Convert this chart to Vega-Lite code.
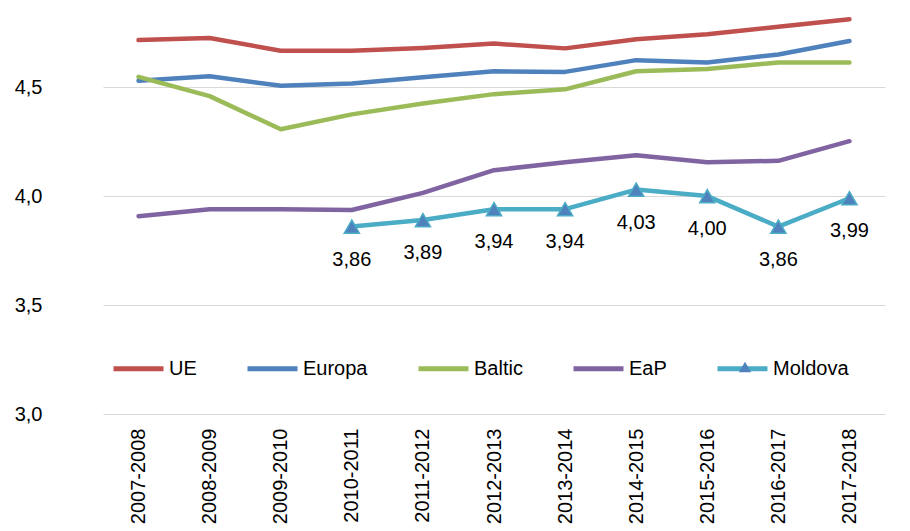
{
  "$schema": "https://vega.github.io/schema/vega-lite/v6.json",
  "width": 847,
  "height": 414,
  "autosize": {"type": "none"},
  "padding": {"left": 63, "top": 0, "right": 0, "bottom": 117},
  "background": "white",
  "config": {
    "locale": {"number": {"decimal": ",", "thousands": ".", "grouping": [3], "currency": ["", " €"]}},
    "view": {"stroke": null},
    "font": "Liberation Sans"
  },
  "data": {
    "values": [
      {"period": "2007-2008", "series": "UE", "value": 4.716},
      {"period": "2008-2009", "series": "UE", "value": 4.726},
      {"period": "2009-2010", "series": "UE", "value": 4.667},
      {"period": "2010-2011", "series": "UE", "value": 4.667},
      {"period": "2011-2012", "series": "UE", "value": 4.68},
      {"period": "2012-2013", "series": "UE", "value": 4.70},
      {"period": "2013-2014", "series": "UE", "value": 4.678},
      {"period": "2014-2015", "series": "UE", "value": 4.72},
      {"period": "2015-2016", "series": "UE", "value": 4.743},
      {"period": "2016-2017", "series": "UE", "value": 4.777},
      {"period": "2017-2018", "series": "UE", "value": 4.812},
      {"period": "2007-2008", "series": "Europa", "value": 4.529},
      {"period": "2008-2009", "series": "Europa", "value": 4.55},
      {"period": "2009-2010", "series": "Europa", "value": 4.506},
      {"period": "2010-2011", "series": "Europa", "value": 4.517},
      {"period": "2011-2012", "series": "Europa", "value": 4.546},
      {"period": "2012-2013", "series": "Europa", "value": 4.573},
      {"period": "2013-2014", "series": "Europa", "value": 4.57},
      {"period": "2014-2015", "series": "Europa", "value": 4.624},
      {"period": "2015-2016", "series": "Europa", "value": 4.613},
      {"period": "2016-2017", "series": "Europa", "value": 4.65},
      {"period": "2017-2018", "series": "Europa", "value": 4.712},
      {"period": "2007-2008", "series": "Baltic", "value": 4.547},
      {"period": "2008-2009", "series": "Baltic", "value": 4.459},
      {"period": "2009-2010", "series": "Baltic", "value": 4.307},
      {"period": "2010-2011", "series": "Baltic", "value": 4.375},
      {"period": "2011-2012", "series": "Baltic", "value": 4.425},
      {"period": "2012-2013", "series": "Baltic", "value": 4.468},
      {"period": "2013-2014", "series": "Baltic", "value": 4.49},
      {"period": "2014-2015", "series": "Baltic", "value": 4.573},
      {"period": "2015-2016", "series": "Baltic", "value": 4.583},
      {"period": "2016-2017", "series": "Baltic", "value": 4.613},
      {"period": "2017-2018", "series": "Baltic", "value": 4.613},
      {"period": "2007-2008", "series": "EaP", "value": 3.908},
      {"period": "2008-2009", "series": "EaP", "value": 3.94},
      {"period": "2009-2010", "series": "EaP", "value": 3.94},
      {"period": "2010-2011", "series": "EaP", "value": 3.936},
      {"period": "2011-2012", "series": "EaP", "value": 4.015},
      {"period": "2012-2013", "series": "EaP", "value": 4.119},
      {"period": "2013-2014", "series": "EaP", "value": 4.155},
      {"period": "2014-2015", "series": "EaP", "value": 4.188},
      {"period": "2015-2016", "series": "EaP", "value": 4.155},
      {"period": "2016-2017", "series": "EaP", "value": 4.162},
      {"period": "2017-2018", "series": "EaP", "value": 4.252},
      {"period": "2010-2011", "series": "Moldova", "value": 3.86},
      {"period": "2011-2012", "series": "Moldova", "value": 3.89},
      {"period": "2012-2013", "series": "Moldova", "value": 3.94},
      {"period": "2013-2014", "series": "Moldova", "value": 3.94},
      {"period": "2014-2015", "series": "Moldova", "value": 4.03},
      {"period": "2015-2016", "series": "Moldova", "value": 4.00},
      {"period": "2016-2017", "series": "Moldova", "value": 3.86},
      {"period": "2017-2018", "series": "Moldova", "value": 3.99}
    ]
  },
  "encoding": {
    "x": {
      "field": "period",
      "type": "ordinal",
      "sort": null,
      "scale": {"type": "point", "range": [40, 822]},
      "axis": {
        "title": null,
        "labelAngle": -90,
        "labelFont": "Liberation Sans",
        "labelFontSize": 20,
        "labelColor": "#000000",
        "labelPadding": 14,
        "labelOverlap": false,
        "ticks": false,
        "domain": false,
        "grid": false
      }
    },
    "y": {
      "field": "value",
      "type": "quantitative",
      "scale": {"domain": [3, 4.9], "nice": false, "zero": false},
      "axis": {
        "title": null,
        "values": [3, 3.5, 4, 4.5],
        "format": ".1f",
        "labelFont": "Liberation Sans",
        "labelFontSize": 20,
        "labelColor": "#000000",
        "labelPadding": 21,
        "ticks": false,
        "domain": false,
        "grid": true,
        "gridColor": "#d9d9d9",
        "gridWidth": 1.2
      }
    }
  },
  "layer": [
    {
      "mark": {"type": "line", "strokeWidth": 4.5, "strokeCap": "round", "strokeJoin": "round"},
      "encoding": {
        "color": {
          "field": "series",
          "type": "nominal",
          "scale": {
            "domain": ["UE", "Europa", "Baltic", "EaP", "Moldova"],
            "range": ["#C0504D", "#4F81BD", "#9BBB59", "#8064A2", "#4BACC6"]
          },
          "legend": {
            "title": null,
            "orient": "none",
            "legendX": 48,
            "legendY": 341,
            "direction": "horizontal",
            "symbolType": "stroke",
            "symbolSize": 2500,
            "symbolStrokeWidth": 5,
            "labelFont": "Liberation Sans",
            "labelFontSize": 20,
            "labelColor": "#000000",
            "labelOffset": 3,
            "columnPadding": 40,
            "labelLimit": 300,
            "zindex": 1
          }
        },
        "order": {"field": "period", "type": "ordinal"}
      }
    },
    {
      "transform": [{"filter": "datum.series === 'Moldova'"}],
      "mark": {"type": "point", "filled": true, "size": 230, "fill": "#4F81BD", "stroke": "#4BACC6", "strokeWidth": 1.5, "opacity": 1},
      "encoding": {
        "shape": {
          "field": "series",
          "type": "nominal",
          "scale": {"domain": ["Moldova"], "range": ["triangle-up"]},
          "legend": {
            "title": null,
            "orient": "none",
            "legendX": 672,
            "legendY": 357,
            "symbolSize": 150,
            "symbolFillColor": "#4F81BD",
            "symbolStrokeColor": "#4BACC6",
            "symbolStrokeWidth": 1,
            "symbolOpacity": 1,
            "labelFontSize": 20,
            "labelExpr": "''",
            "zindex": 2
          }
        }
      }
    },
    {
      "transform": [{"filter": "datum.series === 'Moldova'"}],
      "mark": {"type": "text", "dy": 33, "fontSize": 20, "font": "Liberation Sans", "color": "#000000", "baseline": "middle"},
      "encoding": {"text": {"field": "value", "type": "quantitative", "format": ".2f"}}
    }
  ]
}
